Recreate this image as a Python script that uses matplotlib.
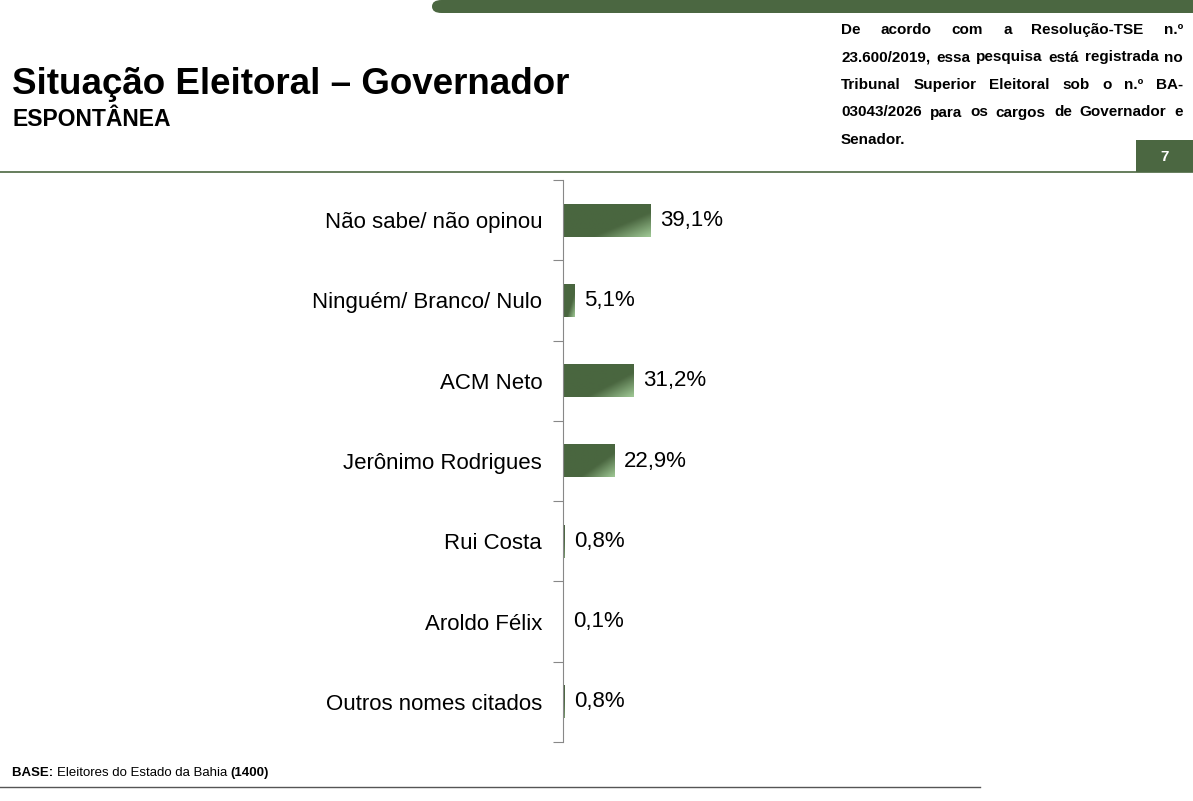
import numpy as np
import matplotlib.pyplot as plt
from matplotlib.patches import FancyBboxPatch, Rectangle

categories = ["Não sabe/ não opinou", "Ninguém/ Branco/ Nulo", "ACM Neto",
              "Jerônimo Rodrigues", "Rui Costa", "Aroldo Félix", "Outros nomes citados"]
values = [39.1, 5.1, 31.2, 22.9, 0.8, 0.1, 0.8]
labels = ["39,1%", "5,1%", "31,2%", "22,9%", "0,8%", "0,1%", "0,8%"]

note_lines = ["De acordo com a Resolução-TSE n.º",
              "23.600/2019, essa pesquisa está registrada no",
              "Tribunal Superior Eleitoral sob o n.º BA-",
              "03043/2026 para os cargos de Governador e",
              "Senador."]

W, H = 1193, 801
GREEN = "#4b6741"
plt.rcParams['font.family'] = ['Liberation Sans', 'DejaVu Sans']

fig = plt.figure(figsize=(W / 100, H / 100), dpi=100)

def fx(x):
    return x / W

def fy(y):
    return 1 - y / H

# header decorations
fig.patches.append(FancyBboxPatch((fx(432), fy(13)), fx(800), 13 / H,
                                  boxstyle="round,pad=0,rounding_size=0.008",
                                  transform=fig.transFigure, color=GREEN, lw=0))
fig.add_artist(plt.Line2D([0, 1], [fy(172), fy(172)], color=GREEN, lw=1.2))
fig.patches.append(Rectangle((fx(1136), fy(172)), fx(57), 32 / H,
                             transform=fig.transFigure, color=GREEN, lw=0))
fig.text(fx(1165), fy(157), "7", color="white", fontsize=11, fontweight="bold",
         ha="center", va="center")
fig.text(fx(12), fy(84), "Situação Eleitoral – Governador", fontsize=26.5,
         fontweight="bold", va="center")
fig.text(fx(12), fy(120), "ESPONTÂNEA", fontsize=16.5, fontweight="bold", va="center")

# justified note
fig.canvas.draw()
r = fig.canvas.get_renderer()

def width_of(s, **kw):
    t = fig.text(0, 0, s, **kw)
    w = t.get_window_extent(r).width
    t.remove()
    return w

x0, x1 = 841, 1183
nfs = 11
for i, line in enumerate(note_lines):
    y = fy(30 + i * 27.5)
    words = line.split()
    if i == len(note_lines) - 1:
        fig.text(fx(x0), y, line, fontsize=nfs, fontweight="bold", va="center")
        continue
    widths = [width_of(w, fontsize=nfs, fontweight="bold") for w in words]
    gap = (x1 - x0 - sum(widths)) / (len(words) - 1)
    x = x0
    for w, wd in zip(words, widths):
        fig.text(fx(x), y, w, fontsize=nfs, fontweight="bold", va="center")
        x += wd + gap

# chart
ax = fig.add_axes([fx(563), fy(742), fx(225), (742 - 180) / H])
n = len(categories)
bh = 0.41
dark = np.array([0.29, 0.40, 0.25])
light = np.array([0.62, 0.78, 0.58])
xx, yy = np.meshgrid(np.linspace(0, 1, 60), np.linspace(0, 1, 20))
t = np.clip((xx * 0.7 + yy * 0.6 - 0.85) / 0.45, 0, 1)
img = dark + t[..., None] * (light - dark)
for i, (v, lab) in enumerate(zip(values, labels)):
    yc = i + 0.5
    ax.imshow(img, extent=[0, v, yc + bh / 2, yc - bh / 2], aspect="auto",
              interpolation="bilinear", zorder=2)
    ax.text(v + 4.2, yc, lab, fontsize=16, va="center", ha="left")
ax.set_xlim(0, 100)
ax.set_ylim(n, 0)
ax.set_yticks(np.arange(n + 1))
ax.set_yticklabels([])
ax.set_yticks(np.arange(n) + 0.5, minor=True)
ax.set_yticklabels(categories, minor=True, fontsize=16)
ax.tick_params(axis="y", which="minor", length=0, pad=15)
ax.tick_params(axis="y", which="major", length=7, color="#888888", direction="out")
ax.set_xticks([])
for s in ["top", "right", "bottom"]:
    ax.spines[s].set_visible(False)
ax.spines["left"].set_color("#888888")

fig.add_artist(plt.Line2D([0, fx(980)], [fy(787), fy(787)], color="#555555", lw=1))
bfs = 9.5
x = 12
for s, bold in [("BASE: ", True), ("Eleitores do Estado da Bahia ", False), ("(1400)", True)]:
    wt = "bold" if bold else "normal"
    fig.text(fx(x), fy(773), s, fontsize=bfs, fontweight=wt, va="center")
    x += width_of(s.replace(" ", "\u00a0"), fontsize=bfs, fontweight=wt)

fig.savefig("out.png", dpi=100)
